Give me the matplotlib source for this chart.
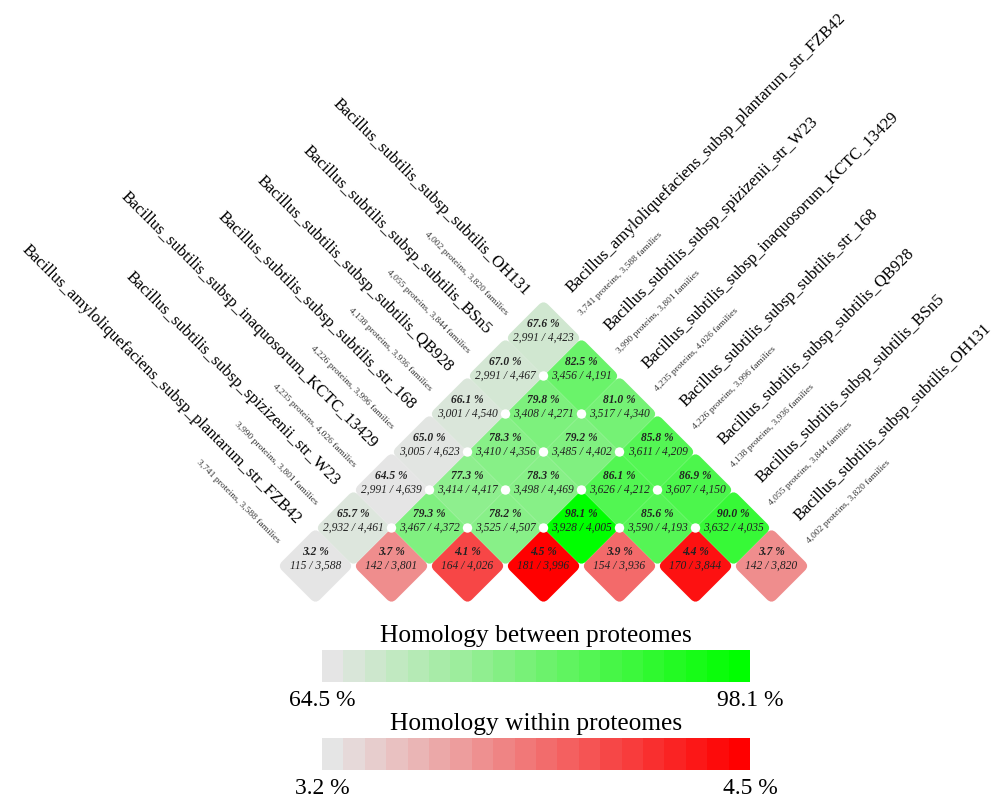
import numpy as np
import matplotlib
matplotlib.use("Agg")
from matplotlib import pyplot as plt
from matplotlib.colors import LinearSegmentedColormap, Normalize
from matplotlib.patches import FancyBboxPatch, Circle
from matplotlib.transforms import Affine2D

# genomes in the order they sit along the base of the triangle
genomes = [
    "Bacillus_amyloliquefaciens_subsp_plantarum_str_FZB42",
    "Bacillus_subtilis_subsp_spizizenii_str_W23",
    "Bacillus_subtilis_subsp_inaquosorum_KCTC_13429",
    "Bacillus_subtilis_subsp_subtilis_str_168",
    "Bacillus_subtilis_subsp_subtilis_QB928",
    "Bacillus_subtilis_subsp_subtilis_BSn5",
    "Bacillus_subtilis_subsp_subtilis_OH131",
]
proteins = [3741, 3990, 4235, 4226, 4138, 4055, 4002]
families = [3588, 3801, 4026, 3996, 3936, 3844, 3820]

# homology within each proteome (paralogous families / families)
within_pct = [3.2, 3.7, 4.1, 4.5, 3.9, 4.4, 3.7]
within_count = [115, 142, 164, 181, 154, 170, 142]

# homology between proteomes, one list per diagonal offset (j - i)
between_pct = [
    [65.7, 79.3, 78.2, 98.1, 85.6, 90.0],
    [64.5, 77.3, 78.3, 86.1, 86.9],
    [65.0, 78.3, 79.2, 85.8],
    [66.1, 79.8, 81.0],
    [67.0, 82.5],
    [67.6],
]
between_shared = [
    [2932, 3467, 3525, 3928, 3590, 3632],
    [2991, 3414, 3498, 3626, 3607],
    [3005, 3410, 3485, 3611],
    [3001, 3408, 3517],
    [2991, 3456],
    [2991],
]
between_total = [
    [4461, 4372, 4507, 4005, 4193, 4035],
    [4639, 4417, 4469, 4212, 4150],
    [4623, 4356, 4402, 4209],
    [4540, 4271, 4340],
    [4467, 4191],
    [4423],
]

SERIF = ["Liberation Serif", "DejaVu Serif"]
plt.rcParams["font.family"] = SERIF

grey = "#e5e5e5"
cm_green = LinearSegmentedColormap.from_list("between", [grey, "#00ff00"])
cm_red = LinearSegmentedColormap.from_list("within", [grey, "#ff0000"])
all_between = [v for row in between_pct for v in row]
norm_green = Normalize(min(all_between), max(all_between))
norm_red = Normalize(min(within_pct), max(within_pct))

W, H = 995, 799
unit = 76.0            # pixels per cell step along the base
x0_px, y0_px = 315.5, 566.0

fig = plt.figure(figsize=(W / 100, H / 100), dpi=100)
ax = fig.add_axes([0, 0, 1, 1])
ax.set_xlim(-x0_px / unit, (W - x0_px) / unit)
ax.set_ylim(-(H - y0_px) / unit, y0_px / unit)
ax.axis("off")

side = 1 / np.sqrt(2)
rad = 0.085


def diamond(cx, cy, color):
    p = FancyBboxPatch((-side / 2, -side / 2), side, side,
                       boxstyle="round,pad=0,rounding_size=%.3f" % rad,
                       linewidth=0, facecolor=color)
    p.set_transform(Affine2D().rotate_deg(45).translate(cx, cy) + ax.transData)
    ax.add_patch(p)


def cell_text(cx, cy, top, bottom):
    ax.text(cx, cy + 0.18, top, ha="center", va="center", fontsize=8.3,
            fontweight="bold", style="italic", color="#222222", zorder=4)
    ax.text(cx, cy + 0.0, bottom, ha="center", va="center", fontsize=8.3,
            style="italic", color="#222222", zorder=4)


n = len(genomes)

# bottom row: within-proteome homology
for i in range(n):
    diamond(i, 0, cm_red(norm_red(within_pct[i])))
    cell_text(i, 0, "%.1f %%" % within_pct[i],
              "{:,} / {:,}".format(within_count[i], families[i]))

# upper cells: pairwise homology
for k, row in enumerate(between_pct, start=1):
    for i, val in enumerate(row):
        j = i + k
        cx, cy = (i + j) / 2, (j - i) / 2
        diamond(cx, cy, cm_green(norm_green(val)))
        cell_text(cx, cy, "%.1f %%" % val,
                  "{:,} / {:,}".format(between_shared[k - 1][i], between_total[k - 1][i]))

# white dots where the cell corners meet inside the triangle
for k in range(1, n - 1):
    for m in range(n - 1 - k):
        vx = k / 2 + m + 0.5
        vy = (k - 1) / 2 + 0.5
        ax.add_patch(Circle((vx, vy), 0.062, facecolor="white",
                            linewidth=0, zorder=3))

r2 = np.sqrt(2)
# left-hand labels, one per column running down-right
for j in range(n):
    cx, cy = j / 2, j / 2
    bx, by = cx - 0.57 / r2, cy + 0.57 / r2
    ax.text(bx + 0.26 / r2, by + 0.26 / r2, genomes[j], rotation=-45,
            rotation_mode="anchor", ha="right", va="center", fontsize=12)
    ax.text(bx - 0.12 / r2, by - 0.12 / r2,
            "{:,} proteins, {:,} families".format(proteins[j], families[j]),
            rotation=-45, rotation_mode="anchor", ha="right", va="center",
            fontsize=6.8, color="#333333")

# right-hand labels, one per column running up-right
for i in range(n):
    cx, cy = (i + n - 1) / 2, (n - 1 - i) / 2
    mx, my = cx + 0.68 / r2, cy + 0.68 / r2
    ax.text(mx - 0.2 / r2, my + 0.2 / r2, genomes[i], rotation=45,
            rotation_mode="anchor", ha="left", va="center", fontsize=12)
    sx, sy = cx + 0.57 / r2, cy + 0.57 / r2
    ax.text(sx + 0.12 / r2, sy - 0.12 / r2,
            "{:,} proteins, {:,} families".format(proteins[i], families[i]),
            rotation=45, rotation_mode="anchor", ha="left", va="center",
            fontsize=6.8, color="#333333")


# stepped colour bars
def colour_bar(top_px, cmap, lo, hi, title):
    left, width, height = 322, 428, 32
    cax = fig.add_axes([left / W, 1 - (top_px + height) / H, width / W, height / H])
    cax.imshow(np.linspace(0, 1, 20)[None, :], cmap=cmap, aspect="auto",
               interpolation="nearest")
    cax.axis("off")
    fig.text((left + width / 2) / W, 1 - (top_px - 14) / H, title,
             ha="center", va="center", fontsize=18.3)
    fig.text(left / W, 1 - (top_px + height + 18) / H, "%.1f %%" % lo,
             ha="center", va="center", fontsize=17)
    fig.text((left + width) / W, 1 - (top_px + height + 18) / H, "%.1f %%" % hi,
             ha="center", va="center", fontsize=17)


colour_bar(650, cm_green, min(all_between), max(all_between),
           "Homology between proteomes")
colour_bar(738, cm_red, min(within_pct), max(within_pct),
           "Homology within proteomes")

fig.savefig("out.png", dpi=100, facecolor="white")
